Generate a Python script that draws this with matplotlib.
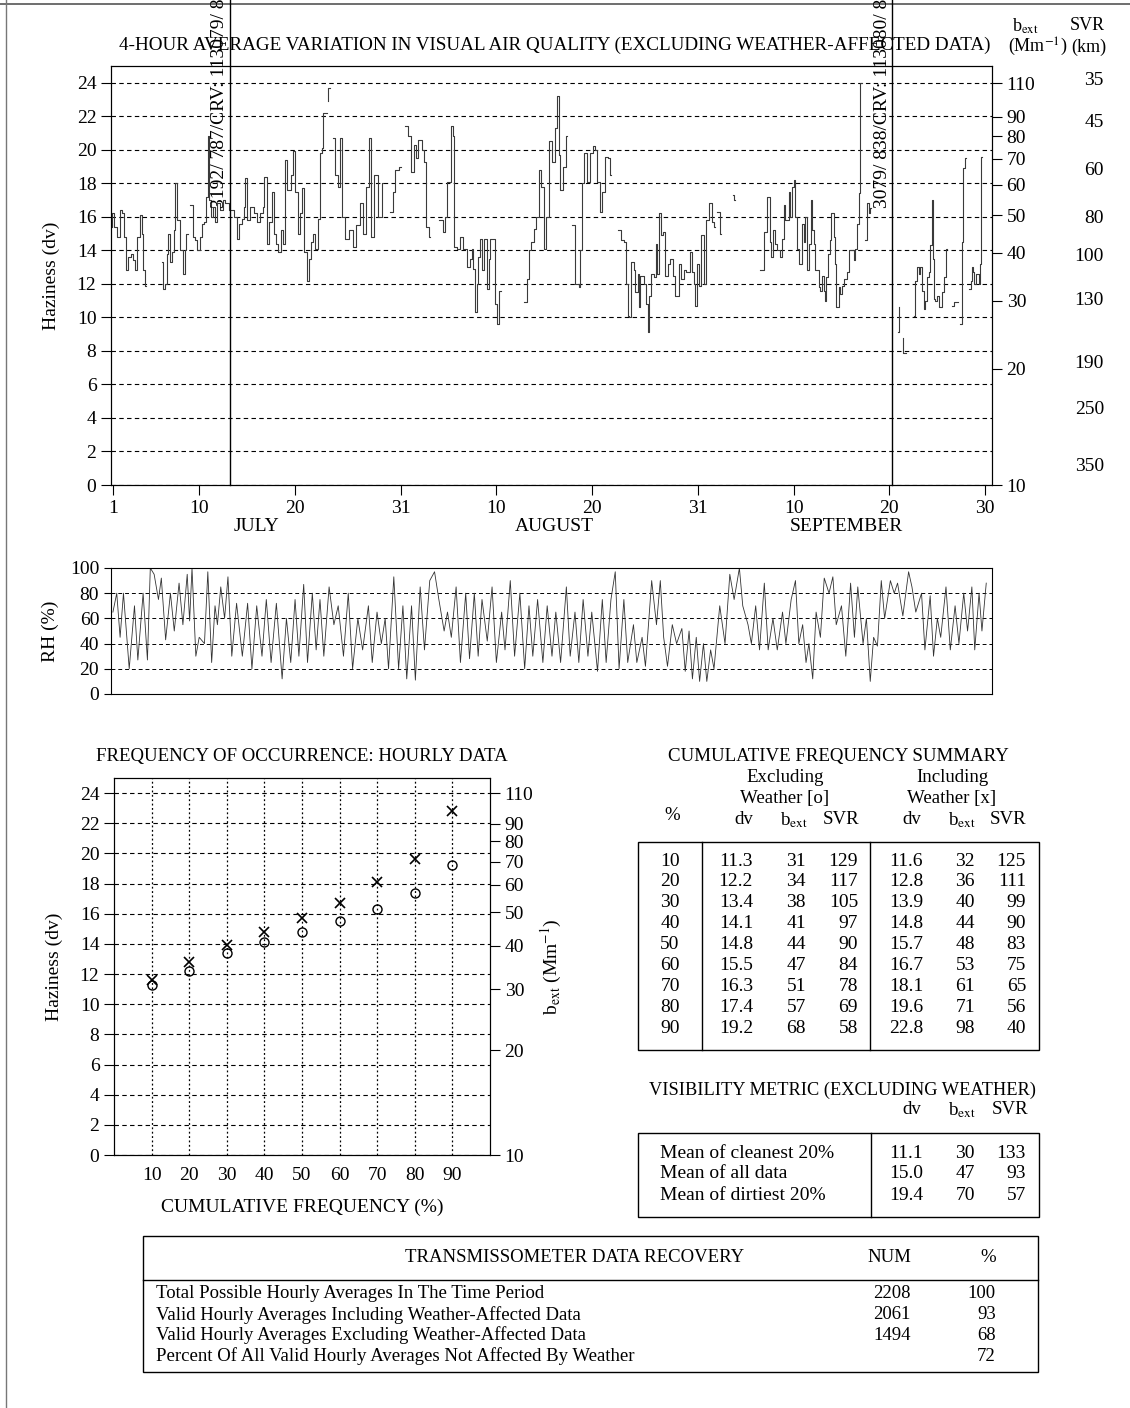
import numpy as np
import matplotlib
matplotlib.use('Agg')
import matplotlib.pyplot as plt
from matplotlib.patches import Rectangle

plt.rcParams['font.family'] = ['Liberation Serif', 'DejaVu Serif']
plt.rcParams['mathtext.fontset'] = 'stix'

nan = np.nan

# 4-hour haziness (dv); (day, nan) marks a gap
haze_4hr = [
    (0.86, 15.4), (0.95, 16.2), (1.1, 15.4), (1.38, 14.8), (1.6, 14.8), (1.73, 16.4), (1.95, 16.2),
    (2.15, 14.8), (2.36, 12.8), (2.6, 13.6), (2.85, 13.8), (3.13, 13.4), (3.3, 12.8), (3.54, 14.8),
    (3.82, 16.1), (4.0, 15.0), (4.17, 12.8), (4.34, 11.9), (4.5, nan),
    (6.09, 13.3), (6.26, 11.7), (6.44, 12.0), (6.6, 13.8), (6.78, 15.0), (6.96, 13.3), (7.13, 13.9),
    (7.38, 15.2), (7.52, 18.0), (7.66, 15.8), (8.0, 14.0), (8.28, 12.6), (8.53, 14.0), (8.63, 15.0),
    (8.8, nan),
    (9.05, 16.7), (9.33, 14.8), (9.57, 14.6), (9.75, 14.0), (9.92, 14.0), (10.09, 14.8), (10.27, 15.6),
    (10.51, 15.7), (10.72, 17.2), (10.9, 20.8), (11.03, 17.0), (11.2, 16.0), (11.42, 16.6), (11.66, 15.7),
    (11.84, 16.8), (12.18, 16.4), (12.5, 17.0), (12.71, 16.8), (13.06, 16.4), (13.3, 16.4), (13.58, 16.0),
    (13.93, 14.7), (14.2, 15.6), (14.45, 15.9), (14.7, 16.6), (14.83, 18.3), (14.97, 15.8), (15.32, 16.6),
    (15.67, 16.2), (16.02, 15.7), (16.37, 16.2), (16.64, 16.6), (16.78, 18.4), (17.06, 14.4), (17.24, 15.7),
    (17.58, 17.5), (17.76, 15.0), (18.0, 14.4), (18.18, 13.9), (18.53, 15.2), (18.73, 14.4), (18.98, 19.4),
    (19.15, 17.6), (19.33, 17.6), (19.6, 18.5), (19.78, 19.9), (20.02, 17.5), (20.27, 15.0), (20.55, 16.2),
    (20.72, 17.7), (20.97, 13.9), (21.24, 12.2), (21.42, 13.5), (21.66, 14.5), (21.87, 15.0), (22.11, 14.1),
    (22.36, 15.9), (22.57, 19.8), (22.78, 20.1), (22.92, 22.2), (23.16, 22.2), (23.3, nan),
    (23.4, 22.9), (23.45, 23.7), (23.6, nan),
    (24.0, 20.7), (24.17, 18.5), (24.45, 17.8), (24.7, 20.7), (24.9, 16.0), (25.2, 14.7), (25.6, 15.2),
    (26.0, 14.2), (26.33, 15.5), (26.75, 16.8), (27.13, 15.0), (27.37, 17.8), (27.76, 20.7), (27.9, 14.8),
    (28.28, 18.5), (28.63, 16.0), (29.05, 18.0), (29.2, nan),
    (29.95, 16.3), (30.2, 17.5), (30.44, 18.8), (30.86, 19.0), (31.0, nan),
    (31.48, 21.4), (31.76, 20.8), (32.1, 18.7), (32.38, 20.3), (32.6, 19.5), (32.87, 20.6), (33.29, 20.0),
    (33.5, 19.3), (33.71, 15.4), (33.99, 14.8), (34.1, nan),
    (35.03, 15.8), (35.38, 15.1), (35.66, 16.0), (35.83, 18.1), (36.28, 21.4), (36.5, 20.8), (36.6, 14.2),
    (36.87, 14.1), (37.22, 14.8), (37.47, 14.1), (37.92, 13.0), (38.2, 13.5), (38.44, 14.1), (38.61, 12.9),
    (38.79, 10.3), (39.0, 12.0), (39.13, 13.6), (39.31, 14.7), (39.5, 12.8), (39.76, 14.7), (40.0, 11.7),
    (40.2, 13.5), (40.35, 14.7), (40.6, 14.7), (40.87, 10.8), (41.05, 9.6), (41.3, 11.6), (41.45, nan),
    (43.83, 10.9), (44.18, 12.3), (44.42, 14.0), (44.6, 14.5), (44.88, 15.3), (45.12, 16.0), (45.47, 18.8),
    (45.68, 17.8), (45.92, 14.1), (46.16, 16.0), (46.44, 20.5), (46.79, 19.3), (47.07, 21.3), (47.31, 23.2),
    (47.5, 19.7), (47.66, 17.6), (47.94, 19.0), (48.29, 20.8), (48.4, nan),
    (48.88, 15.5), (49.23, 12.0), (49.58, 11.8), (49.75, 14.0), (49.93, 18.0), (50.17, 19.8), (50.45, 18.1),
    (50.73, 19.8), (51.07, 20.2), (51.32, 20.0), (51.49, 18.1), (51.77, 16.3), (52.01, 17.5), (52.36, 19.6),
    (52.6, 19.5), (52.88, 18.5), (53.0, nan),
    (53.68, 15.2), (54.0, 14.6), (54.27, 14.5), (54.48, 12.0), (54.69, 10.1), (54.87, 10.0), (55.08, 13.3),
    (55.32, 12.8), (55.49, 11.5), (55.74, 12.6), (55.84, 10.6), (56.01, 12.5), (56.36, 12.0), (56.57, 10.8),
    (56.78, 9.1), (56.95, 11.3), (57.16, 12.6), (57.4, 12.4), (57.69, 14.4), (57.79, 12.6), (58.0, 16.2),
    (58.21, 14.9), (58.38, 15.1), (58.62, 12.5), (58.87, 13.2), (59.15, 13.5), (59.4, 12.5), (59.67, 11.3),
    (60.02, 13.2), (60.29, 12.3), (60.54, 12.8), (60.82, 12.7), (61.16, 13.9), (61.41, 12.7), (61.58, 12.0),
    (61.76, 10.7), (61.93, 13.2), (62.1, 11.9), (62.35, 14.9), (62.63, 12.0), (62.9, 15.8), (63.15, 16.8),
    (63.5, 15.7), (63.67, 15.4), (63.8, nan),
    (64.02, 16.3), (64.3, 15.0), (64.4, nan),
    (65.69, 17.3), (65.8, 17.0), (65.9, nan),
    (68.54, 12.8), (68.89, 15.1), (69.24, 17.2), (69.52, 14.5), (69.66, 13.6), (69.86, 15.2), (70.1, 14.4),
    (70.3, 14.0), (70.56, 13.6), (70.8, 14.7), (70.97, 16.7), (71.15, 15.8), (71.5, 17.5), (71.67, 16.0),
    (71.84, 17.8), (72.0, 18.2), (72.1, 16.0), (72.36, 14.1), (72.54, 13.2), (72.9, 15.6), (73.06, 14.5),
    (73.23, 16.0), (73.41, 12.8), (73.58, 14.4), (73.82, 17.0), (73.93, 15.2), (74.1, 14.4), (74.28, 12.8),
    (74.62, 11.8), (74.8, 11.6), (74.97, 12.5), (75.15, 11.6), (75.25, 11.0), (75.43, 12.4), (75.57, 13.8),
    (75.77, 14.6), (75.91, 16.2), (76.19, 14.8), (76.37, 13.2), (76.47, 10.6), (76.71, 11.8), (76.89, 11.4),
    (77.06, 11.9), (77.3, 12.3), (77.58, 12.7), (77.76, 14.0), (78.1, 14.0), (78.28, 13.4), (78.45, 14.1),
    (78.63, 15.6), (78.8, 17.4), (78.9, 18.0), (78.97, 24.0), (79.15, nan),
    (79.5, 14.6), (79.67, 16.8), (79.85, 16.2), (80.0, 16.5), (80.1, nan),
    (82.85, 9.1), (82.95, 10.6), (83.05, nan),
    (83.4, 8.8), (83.42, 7.9), (83.7, 7.9), (83.75, nan),
    (84.54, 10.1), (84.72, 12.2), (84.89, 13.0), (85.06, 12.6), (85.24, 13.0), (85.41, 11.6), (85.58, 10.5),
    (85.76, 11.0), (85.93, 12.4), (86.11, 12.7), (86.28, 14.3), (86.39, 17.0), (86.56, 13.5), (86.63, 11.1),
    (86.8, 11.0), (86.98, 11.3), (87.15, 10.6), (87.5, 11.5), (87.67, 12.4), (87.85, 14.1), (88.0, nan),
    (88.54, 10.7), (88.75, 10.9), (89.05, 10.9), (89.2, nan),
    (89.34, 9.6), (89.59, 14.5), (89.69, 18.9), (89.87, 19.5), (90.0, nan),
    (90.28, 11.7), (90.46, 12.2), (90.63, 13.0), (90.75, 12.7), (90.87, 12.0), (91.08, 12.6), (91.33, 12.0),
    (91.5, 13.2), (91.57, 19.6), (91.7, nan),
]

# relative humidity (%), peaks and troughs
rh_hourly = [
    (1.0, 65), (1.4, 80), (1.75, 45), (2.1, 80), (2.7, 20), (3.25, 70), (3.6, 27), (4.15, 80), (4.6, 27),
    (4.9, 100), (5.3, 95), (5.75, 75), (6.05, 92), (6.5, 43), (7.0, 80), (7.4, 50), (7.9, 88), (8.3, 55),
    (8.75, 95), (9.0, 58), (9.25, 100), (9.65, 30), (10.0, 45), (10.55, 40), (10.9, 97), (11.3, 25),
    (11.65, 70), (11.9, 55), (12.25, 85), (12.65, 60), (13.0, 93), (13.4, 30), (13.9, 72), (14.5, 30),
    (15.05, 72), (15.5, 20), (16.0, 70), (16.55, 30), (17.0, 75), (17.5, 25), (18.05, 72), (18.65, 12),
    (19.1, 60), (19.55, 25), (20.0, 75), (20.4, 30), (20.9, 87), (21.3, 25), (21.8, 80), (22.2, 35),
    (22.6, 75), (23.0, 30), (23.55, 85), (24.05, 55), (24.5, 70), (25.05, 30), (25.55, 80), (26.0, 20),
    (26.55, 60), (27.05, 35), (27.65, 70), (28.05, 25), (28.55, 65), (29.0, 40), (29.4, 60), (29.75, 20),
    (30.3, 93), (30.8, 20), (31.25, 70), (31.65, 12), (32.15, 70), (32.55, 11), (33.05, 85), (33.5, 35),
    (34.05, 90), (34.55, 97), (35.0, 75), (35.55, 50), (35.9, 65), (36.3, 45), (36.8, 85), (37.25, 25),
    (37.8, 80), (38.2, 28), (38.7, 80), (39.1, 30), (39.5, 75), (40.05, 42), (40.55, 85), (41.0, 25),
    (41.55, 65), (41.9, 35), (42.45, 90), (42.9, 30), (43.45, 80), (43.95, 20), (44.4, 70), (44.8, 30),
    (45.3, 75), (45.85, 25), (46.3, 70), (46.8, 30), (47.2, 65), (47.7, 25), (48.3, 85), (48.7, 30),
    (49.2, 65), (49.6, 25), (50.05, 75), (50.55, 30), (50.95, 65), (51.55, 18), (52.05, 75), (52.45, 25),
    (52.95, 75), (53.4, 97), (53.8, 20), (54.3, 75), (54.7, 25), (55.3, 55), (55.65, 25), (56.2, 45),
    (56.55, 22), (57.2, 90), (57.7, 55), (58.1, 90), (58.45, 45), (58.85, 22), (59.35, 55), (59.8, 40),
    (60.35, 52), (60.7, 18), (61.1, 50), (61.45, 12), (61.85, 45), (62.2, 10), (62.6, 40), (62.95, 10),
    (63.35, 35), (63.7, 20), (64.3, 70), (64.85, 40), (65.35, 95), (65.8, 75), (66.35, 100), (66.7, 70),
    (67.25, 55), (67.6, 40), (68.05, 70), (68.45, 35), (68.95, 88), (69.35, 35), (69.85, 60), (70.3, 35),
    (70.85, 65), (71.2, 40), (71.75, 75), (72.2, 90), (72.55, 40), (72.95, 55), (73.3, 25), (73.6, 40),
    (74.0, 12), (74.35, 65), (74.8, 45), (75.2, 92), (75.7, 80), (76.1, 93), (76.45, 55), (77.0, 70),
    (77.45, 30), (77.95, 88), (78.35, 45), (78.7, 85), (79.25, 40), (79.6, 60), (80.0, 10), (80.35, 45),
    (80.75, 38), (81.15, 90), (81.5, 60), (82.1, 90), (82.5, 80), (82.85, 88), (83.4, 62), (84.0, 97),
    (84.35, 85), (84.75, 65), (85.35, 80), (85.7, 35), (86.25, 78), (86.6, 30), (87.0, 60), (87.35, 45),
    (87.9, 85), (88.35, 35), (88.85, 70), (89.25, 40), (89.75, 80), (90.15, 50), (90.6, 85), (90.9, 35),
    (91.35, 80), (91.65, 50), (92.1, 88),
]

tick_day = [1, 10, 20, 31, 41, 51, 62, 72, 82, 92]
tick_lab = ['1', '10', '20', '31', '10', '20', '31', '10', '20', '30']
months = ['JULY', 'AUGUST', 'SEPTEMBER']
month_mid = [16, 47, 77.5]
bext_ticks = [10, 20, 30, 40, 50, 60, 70, 80, 90, 110]
svr_marks = [35, 45, 60, 80, 100, 130, 190, 250, 350]
anno_day = [13.2, 82.3]
anno_text = ['3192/ 787/CRV: 113079/ 8', '3079/ 838/CRV: 113080/ 8']

# cumulative frequency summary
cf_pct = [10, 20, 30, 40, 50, 60, 70, 80, 90]
excl_dv = [11.3, 12.2, 13.4, 14.1, 14.8, 15.5, 16.3, 17.4, 19.2]
excl_bext = [31, 34, 38, 41, 44, 47, 51, 57, 68]
excl_svr = [129, 117, 105, 97, 90, 84, 78, 69, 58]
incl_dv = [11.6, 12.8, 13.9, 14.8, 15.7, 16.7, 18.1, 19.6, 22.8]
incl_bext = [32, 36, 40, 44, 48, 53, 61, 71, 98]
incl_svr = [125, 111, 99, 90, 83, 75, 65, 56, 40]

vis_labels = ['Mean of cleanest 20%', 'Mean of all data', 'Mean of dirtiest 20%']
vis_dv = [11.1, 15.0, 19.4]
vis_bext = [30, 47, 70]
vis_svr = [133, 93, 57]

rec_labels = ['Total Possible Hourly Averages In The Time Period',
              'Valid Hourly Averages Including Weather-Affected Data',
              'Valid Hourly Averages Excluding Weather-Affected Data',
              'Percent Of All Valid Hourly Averages Not Affected By Weather']
rec_num = ['2208', '2061', '1494', '']
rec_pct = ['100', '93', '68', '72']


def dv_of_bext(b):
    return 10 * np.log(np.asarray(b, dtype=float) / 10.0)


W, H = 1130, 1408
fig = plt.figure(figsize=(W / 100, H / 100), dpi=100)


def box(l, t, r, b):
    return [l / W, 1 - b / H, (r - l) / W, (b - t) / H]


page = fig.add_axes([0, 0, 1, 1])
page.set_xlim(0, W)
page.set_ylim(H, 0)
page.axis('off')

FS = 14
TFS = 13.6  # table text
DASH = (0, (4, 3))

# ---- haziness time series ----
ax = fig.add_axes(box(111, 66, 992, 485))
ax.set_facecolor('none')
hz = np.array(haze_4hr)
ax.plot(hz[:, 0], hz[:, 1], drawstyle='steps-post', color='#3a3a3a', lw=0.8)
ax.set_xlim(0.8, 92.7)
ax.set_ylim(0, 25)
ax.set_yticks(range(0, 25, 2))
ax.grid(axis='y', ls=DASH, lw=0.8, color='k')
ax.set_xticks(tick_day)
ax.set_xticklabels(tick_lab)
ax.tick_params(direction='out', length=7, labelsize=FS, width=0.8)
ax.set_ylabel('Haziness (dv)', fontsize=FS, labelpad=12)
for m, d in zip(months, month_mid):
    ax.text(d, -0.1, m, transform=ax.get_xaxis_transform(), ha='center', va='center', fontsize=FS)
for d, t in zip(anno_day, anno_text):
    ax.axvline(d, ymin=0, ymax=1.16, color='k', lw=1.0, clip_on=False)
    ax.text(d - 0.15, 0.66, t, transform=ax.get_xaxis_transform(), rotation=90,
            ha='right', va='bottom', fontsize=14, clip_on=False)

axb = ax.twinx()
axb.set_ylim(0, 25)
axb.set_yticks(dv_of_bext(bext_ticks))
axb.set_yticklabels([str(b) for b in bext_ticks])
axb.tick_params(direction='out', length=7, labelsize=FS, width=0.8)
for s in svr_marks:
    ax.text(1.127, dv_of_bext(3912.0 / s), str(s), transform=ax.get_yaxis_transform(),
            ha='right', va='center', fontsize=FS, clip_on=False)

page.text(555, 45, '4-HOUR AVERAGE VARIATION IN VISUAL AIR QUALITY (EXCLUDING WEATHER-AFFECTED DATA)',
          ha='center', va='center', fontsize=13.8)
page.text(1012, 26, r'b$_{\mathrm{ext}}$', ha='left', va='center', fontsize=13)
page.text(1008, 47, r'(Mm$^{\mathrm{-1}}$)', ha='left', va='center', fontsize=13)
page.text(1105, 26, 'SVR', ha='right', va='center', fontsize=13)
page.text(1106, 47, '(km)', ha='right', va='center', fontsize=13)

# ---- relative humidity ----
axr = fig.add_axes(box(111, 568, 992, 694))
axr.set_facecolor('none')
rh = np.array(rh_hourly)
axr.plot(rh[:, 0], rh[:, 1], color='#333333', lw=0.6)
axr.set_xlim(0.8, 92.7)
axr.set_ylim(0, 100)
axr.set_yticks(range(0, 101, 20))
axr.set_xticks([])
axr.grid(axis='y', ls=DASH, lw=0.7, color='k')
axr.tick_params(direction='out', length=5, labelsize=FS, width=0.8)
axr.set_ylabel('RH (%)', fontsize=FS, labelpad=8)

# ---- frequency of occurrence ----
axf = fig.add_axes(box(114, 778, 490, 1155))
axf.set_facecolor('none')
axf.plot(cf_pct, excl_dv, 'o', mfc='none', mec='k', ms=6.5, mew=1.0)
axf.plot(cf_pct, incl_dv, 'x', color='k', ms=7, mew=1.2)
axf.set_xlim(0, 100)
axf.set_ylim(0, 25)
axf.set_xticks(cf_pct)
axf.set_yticks(range(0, 25, 2))
axf.grid(axis='y', ls=DASH, lw=0.8, color='k')
axf.grid(axis='x', ls=(0, (1.5, 2)), lw=0.9, color='k')
axf.tick_params(axis='x', length=0, pad=9, labelsize=FS)
axf.tick_params(axis='y', direction='out', length=7, labelsize=FS, width=0.8)
axf.set_title('FREQUENCY OF OCCURRENCE: HOURLY DATA', fontsize=13.6, pad=12)
axf.set_xlabel('CUMULATIVE FREQUENCY (%)', fontsize=FS, labelpad=10)
axf.set_ylabel('Haziness (dv)', fontsize=FS, labelpad=12)
axf2 = axf.twinx()
axf2.set_ylim(0, 25)
axf2.set_yticks(dv_of_bext(bext_ticks))
axf2.set_yticklabels([str(b) for b in bext_ticks])
axf2.tick_params(direction='out', length=7, labelsize=FS, width=0.8)
axf2.set_ylabel(r'b$_{\mathrm{ext}}$ (Mm$^{\mathrm{-1}}$)', fontsize=FS, labelpad=4)

# ---- cumulative frequency summary table ----
page.text(838, 757, 'CUMULATIVE FREQUENCY SUMMARY', ha='center', va='center', fontsize=TFS)
page.text(785, 778, 'Excluding', ha='center', va='center', fontsize=TFS)
page.text(785, 798, 'Weather [o]', ha='center', va='center', fontsize=TFS)
page.text(952, 778, 'Including', ha='center', va='center', fontsize=TFS)
page.text(952, 798, 'Weather [x]', ha='center', va='center', fontsize=TFS)
page.text(672, 816, '%', ha='center', va='center', fontsize=TFS)
for x0, lab in zip([744, 794, 841, 912, 962, 1008],
                   ['dv', r'b$_{\mathrm{ext}}$', 'SVR'] * 2):
    page.text(x0, 820, lab, ha='center', va='center', fontsize=TFS)
page.add_patch(Rectangle((638, 842), 401, 208, fill=False, lw=1.0, ec='k'))
page.plot([702, 702], [842, 1050], color='k', lw=1.0)
page.plot([870, 870], [842, 1050], color='k', lw=1.0)
cols = [excl_dv, excl_bext, excl_svr, incl_dv, incl_bext, incl_svr]
col_right = [753, 806, 858, 923, 975, 1026]
for i, p in enumerate(cf_pct):
    y = 861 + 20.9 * i
    page.text(670, y, str(p), ha='center', va='center', fontsize=14)
    for c, xr in zip(cols, col_right):
        v = c[i]
        s = f'{v:.1f}' if isinstance(v, float) else str(v)
        page.text(xr, y, s, ha='right', va='center', fontsize=14)

# ---- visibility metric table ----
page.text(842, 1090, 'VISIBILITY METRIC (EXCLUDING WEATHER)', ha='center', va='center', fontsize=13.2)
for x0, lab in zip([912, 962, 1010], ['dv', r'b$_{\mathrm{ext}}$', 'SVR']):
    page.text(x0, 1110, lab, ha='center', va='center', fontsize=TFS)
page.add_patch(Rectangle((638, 1133), 401, 84, fill=False, lw=1.0, ec='k'))
page.plot([871, 871], [1133, 1217], color='k', lw=1.0)
for i, lab in enumerate(vis_labels):
    y = 1153 + 21 * i
    page.text(660, y, lab, ha='left', va='center', fontsize=14)
    page.text(923, y, f'{vis_dv[i]:.1f}', ha='right', va='center', fontsize=14)
    page.text(975, y, str(vis_bext[i]), ha='right', va='center', fontsize=14)
    page.text(1026, y, str(vis_svr[i]), ha='right', va='center', fontsize=14)

# ---- data recovery table ----
page.add_patch(Rectangle((143, 1236), 895, 136, fill=False, lw=1.0, ec='k'))
page.plot([143, 1038], [1280, 1280], color='k', lw=1.0)
page.text(575, 1258, 'TRANSMISSOMETER DATA RECOVERY', ha='center', va='center', fontsize=13.5)
page.text(889, 1258, 'NUM', ha='center', va='center', fontsize=13.5)
page.text(988, 1258, '%', ha='center', va='center', fontsize=13.5)
for i, lab in enumerate(rec_labels):
    y = 1294 + 20.7 * i
    page.text(156, y, lab, ha='left', va='center', fontsize=13.5)
    page.text(911, y, rec_num[i], ha='right', va='center', fontsize=13.5)
    page.text(996, y, rec_pct[i], ha='right', va='center', fontsize=13.5)

# scanned page border
page.plot([0, W], [4, 4], color='#555555', lw=1.2)
page.plot([6, 6], [0, H], color='#777777', lw=1.0)

fig.savefig('out.png', dpi=100)
